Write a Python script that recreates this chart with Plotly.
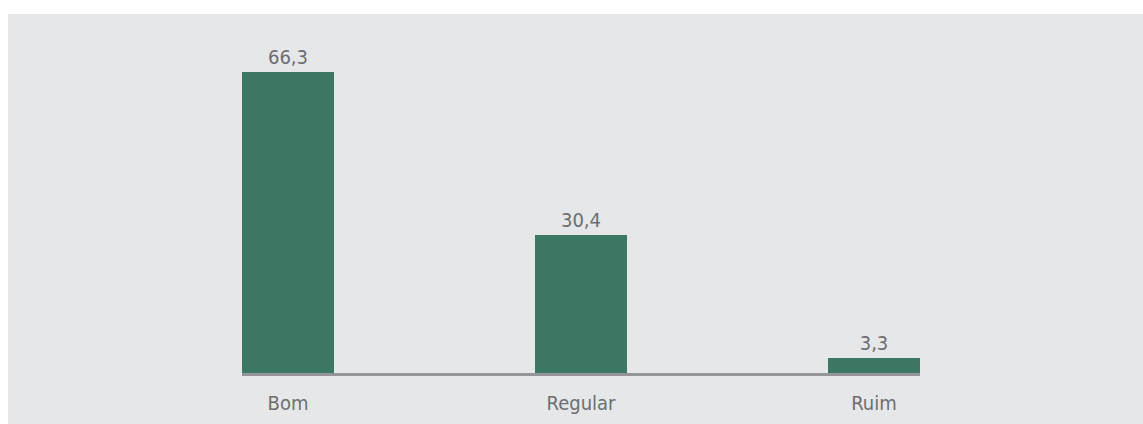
import plotly.graph_objects as go

categories = ["Bom", "Regular", "Ruim"]
values = [66.3, 30.4, 3.3]

BAR = "#3b7762"
PANEL = "#e6e7e8"
AXIS = "#939598"
TEXT = "#6d6e71"
FONT = "DejaVu Sans Condensed, Liberation Sans Narrow, Roboto, sans-serif"

W, H = 1143, 424
L, R, T, B = 242, 223, 40, 51
pw, ph = W - L - R, H - T - B

fig = go.Figure()
fig.add_trace(go.Bar(
    x=categories, y=values,
    marker=dict(color=BAR, line=dict(width=0)),
    width=0.314,
    texttemplate="%{y:.1f}", textposition="outside",
    textfont=dict(family=FONT, size=20, color=TEXT),
    cliponaxis=False,
))

def px2x(p):
    return (p - L) / pw

def py2y(p):
    return (H - B - p) / ph

fig.add_shape(type="rect", xref="paper", yref="paper",
              x0=px2x(8), x1=px2x(W + 5), y0=py2y(H + 5), y1=py2y(14),
              fillcolor=PANEL, line=dict(width=0), layer="below")

fig.update_layout(
    width=W, height=H,
    margin=dict(l=L, r=R, t=T, b=B, autoexpand=False),
    paper_bgcolor="white", plot_bgcolor="rgba(0,0,0,0)",
    separators=",.",
    showlegend=False,
    xaxis=dict(range=[-0.157, 2.157], showline=True, linecolor=AXIS, linewidth=3,
               showgrid=False, zeroline=False, automargin=False,
               ticks="outside", ticklen=10, tickcolor="rgba(0,0,0,0)",
               tickfont=dict(family=FONT, size=20, color=TEXT)),
    yaxis=dict(range=[0, 73.35], visible=False, showgrid=False, zeroline=False,
               automargin=False),
)

fig.write_html("out.html")
